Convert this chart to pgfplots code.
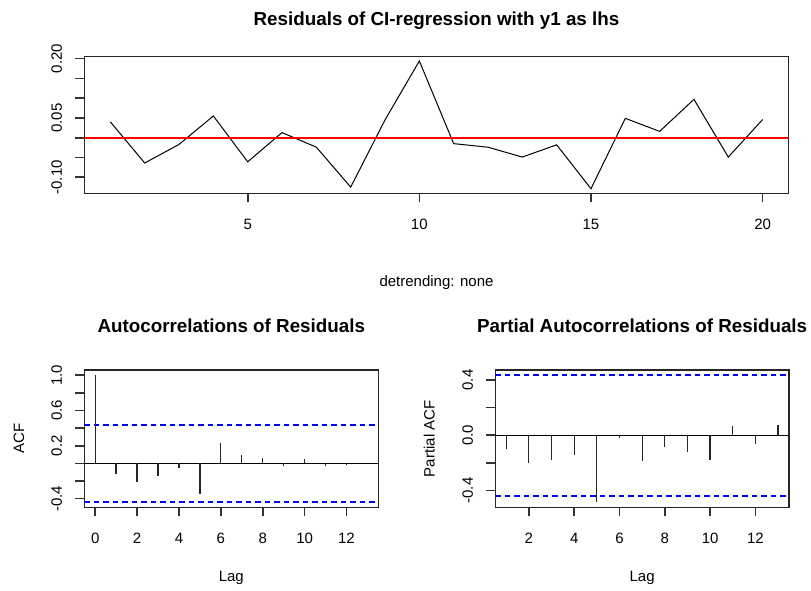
\documentclass[border=0pt]{standalone}
\usepackage{fontspec}
\setmainfont{Liberation Sans}
\usepackage{pgfplots}
\pgfplotsset{compat=1.18}
\definecolor{Rred}{rgb}{1,0,0}
\definecolor{Rblue}{rgb}{0,0,1}
\pgfplotsset{
  rstyle/.style={
    scale only axis,
    axis line style={line width=1.2pt, black!85},
    tick style={line width=1.6pt, black!80},
    xtick align=outside, ytick align=outside,
    major tick length=9pt,
    xtick pos=left, ytick pos=left,
    minor tick num=0,
    ticklabel style={font=\fontsize{15}{15}\selectfont, inner sep=0pt},
    /pgf/number format/assume math mode=true,
    yticklabel style={rotate=90, anchor=center},
    yticklabel shift=18.6pt,
    xticklabel style={anchor=base, yshift=-27pt},
    clip=true,
  }
}
\newcommand{\lab}{\fontsize{15}{15}\selectfont}
\newcommand{\ttl}{\fontsize{18.8}{18.8}\selectfont\bfseries}
\begin{document}
\begin{tikzpicture}[x=1pt,y=1pt]
\useasboundingbox (0,0) rectangle (811,590);

% ---------- Top: residuals ----------
\begin{axis}[rstyle,
  at={(84.3pt,396.7pt)}, anchor=south west,
  width=704.4pt, height=136.6pt,
  xmin=0.24, xmax=20.76, ymin=-0.1406, ymax=0.2049,
  xtick={5,10,15,20}, xticklabels={5,10,15,20},
  ytick={-0.10,-0.05,0,0.05,0.10,0.15,0.20},
  yticklabels={-0.10,{},{},0.05,{},{},0.20},
]
\addplot[draw=black, line width=1pt, no marks] coordinates {
(1,0.040) (2,-0.064) (3,-0.017) (4,0.055) (5,-0.061)
(6,0.013) (7,-0.024) (8,-0.125) (9,0.045) (10,0.194)
(11,-0.015) (12,-0.024) (13,-0.049) (14,-0.018) (15,-0.129)
(16,0.049) (17,0.016) (18,0.097) (19,-0.049) (20,0.046)};
\addplot[draw=Rred, line width=1.7pt, no marks] coordinates {(0.24,0) (20.76,0)};
\end{axis}
\node[anchor=base] at (436.5,564) {\ttl Residuals of CI-regression with y1 as lhs};
\node[anchor=base] at (436.5,303.3) {\lab detrending: none};

% ---------- Bottom left: ACF ----------
\begin{axis}[rstyle,
  at={(84.3pt,82.7pt)}, anchor=south west,
  width=294pt, height=137.3pt,
  xmin=-0.52, xmax=13.52, ymin=-0.4976, ymax=1.0576,
  xtick={0,2,4,6,8,10,12}, xticklabels={0,2,4,6,8,10,12},
  ytick={-0.4,-0.2,0,0.2,0.4,0.6,0.8,1.0},
  yticklabels={-0.4,{},{},0.2,{},0.6,{},1.0},
]
\addplot[draw=black, line width=1.2pt, no marks] coordinates {(-0.52,0) (13.52,0)};
\addplot[draw=Rblue, line width=1.6pt, dash pattern=on 5.2pt off 4.3pt, no marks] coordinates {(-0.52,0.438) (13.52,0.438)};
\addplot[draw=Rblue, line width=1.6pt, dash pattern=on 5.2pt off 4.3pt, no marks] coordinates {(-0.52,-0.438) (13.52,-0.438)};
\addplot[ycomb, draw=black!85, line width=1.3pt, no marks] coordinates {
(0,1.0) (1,-0.115) (2,-0.21) (3,-0.14) (4,-0.057) (5,-0.35) (6,0.226)
(7,0.09) (8,0.06) (9,-0.027) (10,0.047) (11,-0.027) (12,-0.015) (13,0.0)};
\end{axis}
\node[anchor=base] at (231.3,257.7) {\ttl Autocorrelations of Residuals};
\node[anchor=base] at (231.3,9) {\lab Lag};
\node[rotate=90] at (19,151.3) {\lab ACF};

% ---------- Bottom right: PACF ----------
\begin{axis}[rstyle,
  at={(495.3pt,82.7pt)}, anchor=south west,
  width=293.7pt, height=137.3pt,
  xmin=0.52, xmax=13.48, ymin=-0.522, ymax=0.472,
  xtick={2,4,6,8,10,12}, xticklabels={2,4,6,8,10,12},
  ytick={-0.4,-0.2,0,0.2,0.4},
  yticklabels={-0.4,{},0.0,{},0.4},
]
\addplot[draw=black, line width=1.2pt, no marks] coordinates {(0.52,0) (13.48,0)};
\addplot[draw=Rblue, line width=1.6pt, dash pattern=on 5.2pt off 4.3pt, no marks] coordinates {(0.52,0.438) (13.48,0.438)};
\addplot[draw=Rblue, line width=1.6pt, dash pattern=on 5.2pt off 4.3pt, no marks] coordinates {(0.52,-0.438) (13.48,-0.438)};
\addplot[ycomb, draw=black!85, line width=1.3pt, no marks] coordinates {
(1,-0.101) (2,-0.203) (3,-0.177) (4,-0.143) (5,-0.484) (6,-0.019)
(7,-0.184) (8,-0.089) (9,-0.125) (10,-0.178) (11,0.064) (12,-0.064) (13,0.073)};
\end{axis}
\node[anchor=base] at (642.1,257.7) {\ttl Partial Autocorrelations of Residuals};
\node[anchor=base] at (642.1,9) {\lab Lag};
\node[rotate=90] at (429.3,151.3) {\lab Partial ACF};
\end{tikzpicture}
\end{document}
